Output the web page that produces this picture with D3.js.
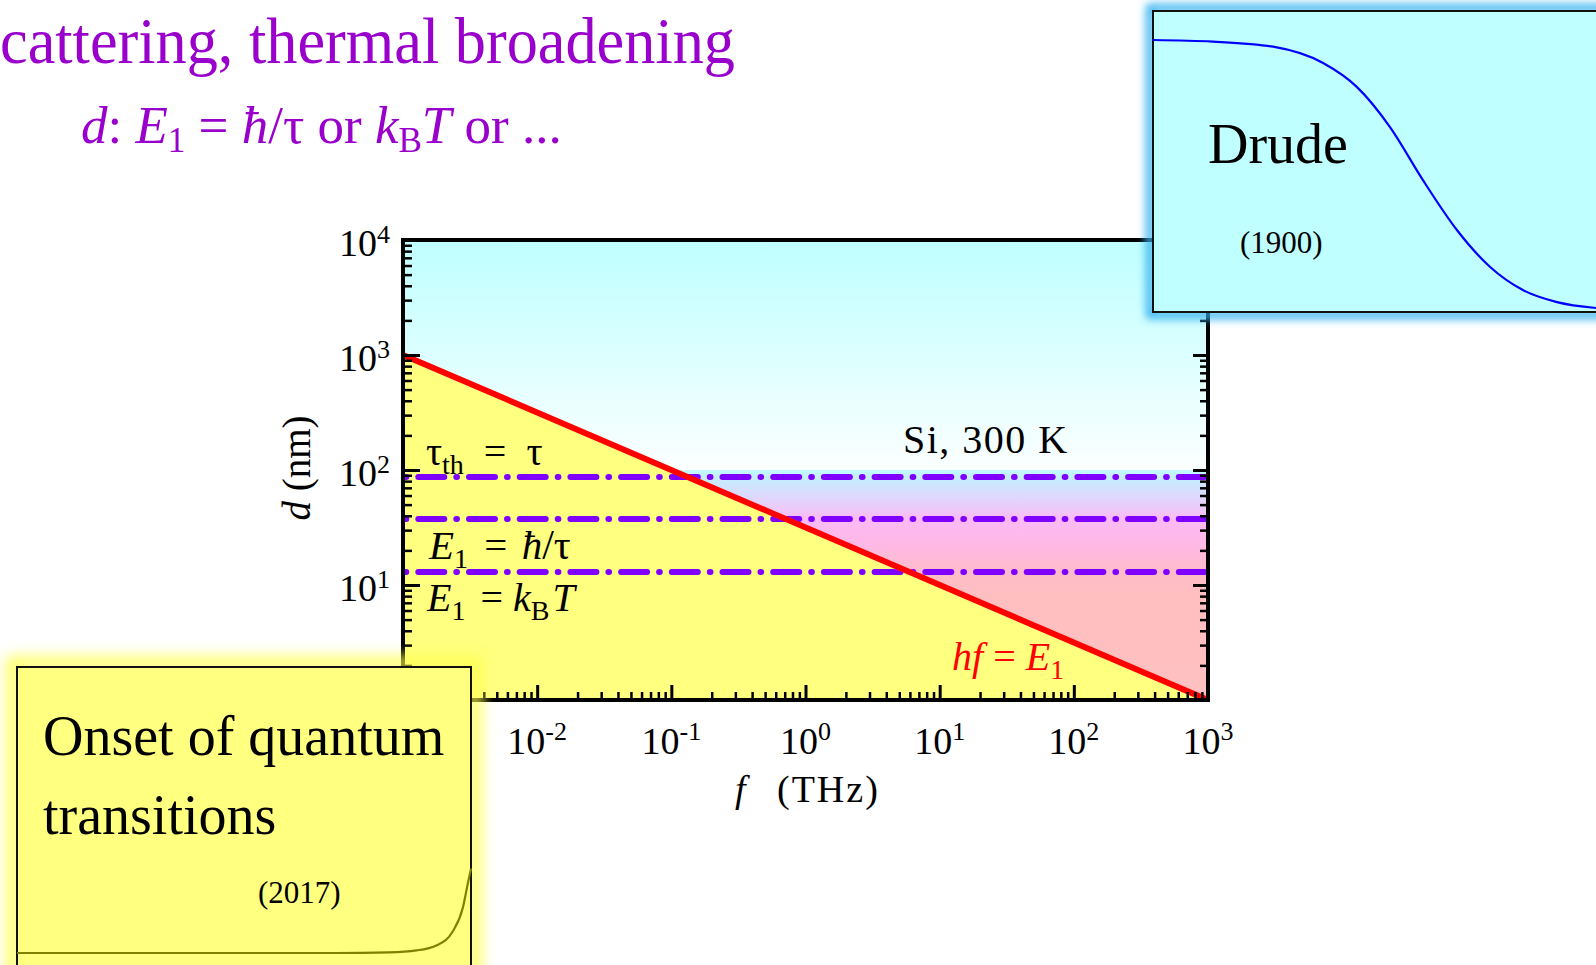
<!DOCTYPE html>
<html>
<head>
<meta charset="utf-8">
<script src="https://cdn.jsdelivr.net/npm/d3@7"></script>
<style>
  html, body { margin: 0; padding: 0; background: #ffffff; overflow: hidden; }
  svg { display: block; }
  text { font-family: "Liberation Serif", "Times New Roman", serif; }
</style>
</head>
<body>
<svg id="chart"></svg>
<script>
// ---- data ----
const xTickExps = [-3, -2, -1, 0, 1, 2, 3];      // f (THz) decades
const yTickExps = [0, 1, 2, 3, 4];               // d (nm) decades
const xLabelExps = [-2, -1, 0, 1, 2, 3];         // labelled decades (others sit under the inset)
const yLabelExps = [1, 2, 3, 4];
const freqTHz = [1e-3, 1e3];                     // hf = E1 boundary
const hfLength = [1000, 1];                      // d (nm) along the boundary
const limitLengths = [87, 37.5, 13];             // tau_th = tau, E1 = hbar/tau, E1 = kB T
// Drude inset curve (normalised inset coordinates)
const drudeU = [0, 0.135, 0.271, 0.384, 0.460, 0.535, 0.609, 0.686, 0.761, 0.835, 0.912, 1];
const drudeV = [1, 0.994, 0.975, 0.914, 0.825, 0.675, 0.478, 0.291, 0.153, 0.067, 0.022, 0];
// quantum-onset inset curve (normalised inset coordinates)
const onsetU = [0, 0.70, 0.82, 0.88, 0.925, 0.960, 0.982, 0.993, 1];
const onsetV = [0, 0, 0.008, 0.03, 0.09, 0.25, 0.52, 0.80, 0.97];

const W = 1596, H = 965;
const plot = { left: 403, right: 1208, top: 240, bottom: 700 };

const svg = d3.select("#chart").attr("width", W).attr("height", H);
const defs = svg.append("defs");

const x = d3.scaleLog().domain([1e-3, 1e3]).range([plot.left, plot.right]);
const y = d3.scaleLog().domain([1, 1e4]).range([plot.bottom, plot.top]);

// ---- gradients & filters ----
const gTop = defs.append("linearGradient").attr("id", "gTop")
  .attr("gradientUnits", "userSpaceOnUse").attr("x1", 0).attr("x2", 0)
  .attr("y1", plot.top).attr("y2", y(100));
[[0, "#bfffff"], [0.45, "#d9ffff"], [0.8, "#f0ffff"], [1, "#fbffff"]].forEach(s =>
  gTop.append("stop").attr("offset", s[0]).attr("stop-color", s[1]));

const gBand = defs.append("linearGradient").attr("id", "gBand")
  .attr("gradientUnits", "userSpaceOnUse").attr("x1", 0).attr("x2", 0)
  .attr("y1", y(100)).attr("y2", plot.bottom);
[[0, "#c0fbff"], [0.04, "#c6ecfd"], [0.13, "#e2d4fc"], [0.22, "#fcbaf6"],
 [0.33, "#ffb9e4"], [0.45, "#ffbcc8"], [0.56, "#ffbfc0"], [1, "#ffc0c0"]].forEach(s =>
  gBand.append("stop").attr("offset", s[0]).attr("stop-color", s[1]));

const blurC = defs.append("filter").attr("id", "glowCyan")
  .attr("x", "-20%").attr("y", "-20%").attr("width", "140%").attr("height", "140%");
blurC.append("feGaussianBlur").attr("stdDeviation", 4);
const blurY = defs.append("filter").attr("id", "glowYellow")
  .attr("x", "-20%").attr("y", "-20%").attr("width", "140%").attr("height", "140%");
blurY.append("feGaussianBlur").attr("stdDeviation", 7);

defs.append("clipPath").attr("id", "plotClip").append("rect")
  .attr("x", plot.left).attr("y", plot.top)
  .attr("width", plot.right - plot.left).attr("height", plot.bottom - plot.top);

// helper: text made of styled runs
function richText(parent, xPos, yPos, runs, opts = {}) {
  const t = parent.append("text").attr("x", xPos).attr("y", yPos)
    .attr("font-size", opts.size || 36).attr("fill", opts.fill || "#000")
    .attr("text-anchor", opts.anchor || "start");
  if (opts.transform) t.attr("transform", opts.transform);
  if (opts.spacing) t.attr("letter-spacing", opts.spacing);
  runs.forEach(r => {
    const s = t.append("tspan").text(r.t);
    if (r.i) s.attr("font-style", "italic");
    if (r.size) s.attr("font-size", r.size);
    if (r.dy) s.attr("dy", r.dy);
    if (r.dx) s.attr("dx", r.dx);
  });
  return t;
}

// ---- heading ----
svg.append("text").attr("x", 0).attr("y", 63)
  .attr("font-size", 65).attr("fill", "#9900cc")
  .attr("textLength", 735).attr("lengthAdjust", "spacingAndGlyphs")
  .text("cattering, thermal broadening");

richText(svg, 81, 143, [
  { t: "d", i: true }, { t: ": " }, { t: "E", i: true },
  { t: "1", size: 35, dy: 9 }, { t: " = ", dy: -9 }, { t: "ħ", i: true },
  { t: "/τ or " }, { t: "k", i: true }, { t: "B", size: 35, dy: 9 },
  { t: "T", i: true, dy: -9 }, { t: " or ..." }
], { size: 53, fill: "#9900cc" });

// ---- plot regions ----
const area = svg.append("g").attr("clip-path", "url(#plotClip)");
area.append("rect").attr("x", plot.left).attr("y", plot.top)
  .attr("width", plot.right - plot.left).attr("height", plot.bottom - plot.top)
  .attr("fill", "url(#gTop)");
area.append("rect").attr("x", plot.left).attr("y", y(100))
  .attr("width", plot.right - plot.left).attr("height", plot.bottom - y(100))
  .attr("fill", "url(#gBand)");

const boundary = freqTHz.map((f, i) => ({ f, d: hfLength[i] }));
area.append("path").datum(boundary)
  .attr("fill", "#ffff80")
  .attr("d", d3.area().x(p => x(p.f)).y0(plot.bottom).y1(p => y(p.d)));

// dash-dot limit lines
area.selectAll("line.limit").data(limitLengths).join("line")
  .attr("class", "limit")
  .attr("x1", plot.left).attr("x2", plot.right)
  .attr("y1", d => y(d)).attr("y2", d => y(d))
  .attr("stroke", "#8000ff").attr("stroke-width", 6)
  .attr("stroke-linecap", "round")
  .attr("stroke-dasharray", "26,12,0.7,12").attr("stroke-dashoffset", 35.4);

// hf = E1 boundary
area.append("path").datum(boundary)
  .attr("fill", "none").attr("stroke", "#ff0000").attr("stroke-width", 6)
  .attr("d", d3.line().x(p => x(p.f)).y(p => y(p.d)));

// ---- axes ----
const minor = exps => {
  const out = [];
  for (let k = exps[0]; k < exps[exps.length - 1]; k++)
    for (let m = 2; m <= 9; m++) out.push(m * Math.pow(10, k));
  return out;
};
const xMajor = xTickExps.map(e => Math.pow(10, e));
const yMajor = yTickExps.map(e => Math.pow(10, e));

function styleAxis(g, w) {
  g.select(".domain").remove();
  g.selectAll(".tick line").attr("stroke", "#000").attr("stroke-width", w);
  g.selectAll(".tick text").remove();
}
// bottom
svg.append("g").attr("transform", `translate(0,${plot.bottom})`)
  .call(d3.axisBottom(x).tickValues(minor(xTickExps)).tickSize(-8).tickFormat(""))
  .call(g => styleAxis(g, 2.5));
svg.append("g").attr("transform", `translate(0,${plot.bottom})`)
  .call(d3.axisBottom(x).tickValues(xMajor).tickSize(-15).tickFormat(""))
  .call(g => styleAxis(g, 3));
// left
svg.append("g").attr("transform", `translate(${plot.left},0)`)
  .call(d3.axisLeft(y).tickValues(minor(yTickExps)).tickSize(-9).tickFormat(""))
  .call(g => styleAxis(g, 2.5));
svg.append("g").attr("transform", `translate(${plot.left},0)`)
  .call(d3.axisLeft(y).tickValues(yMajor).tickSize(-17).tickFormat(""))
  .call(g => styleAxis(g, 3));
// right
svg.append("g").attr("transform", `translate(${plot.right},0)`)
  .call(d3.axisRight(y).tickValues(minor(yTickExps)).tickSize(-8).tickFormat(""))
  .call(g => styleAxis(g, 2.5));
svg.append("g").attr("transform", `translate(${plot.right},0)`)
  .call(d3.axisRight(y).tickValues(yMajor).tickSize(-15).tickFormat(""))
  .call(g => styleAxis(g, 3));
// frame
svg.append("rect").attr("x", plot.left).attr("y", plot.top)
  .attr("width", plot.right - plot.left).attr("height", plot.bottom - plot.top)
  .attr("fill", "none").attr("stroke", "#000").attr("stroke-width", 4);

// tick labels
xLabelExps.forEach(e => {
  richText(svg, x(Math.pow(10, e)), 754, [
    { t: "10" }, { t: String(e), size: 26, dy: -14 }
  ], { size: 38, anchor: "middle" });
});
yLabelExps.forEach(e => {
  richText(svg, 390, y(Math.pow(10, e)) + 16, [
    { t: "10" }, { t: String(e), size: 26, dy: -13 }
  ], { size: 38, anchor: "end" });
});

// axis titles
richText(svg, 0, 0, [{ t: "d", i: true }, { t: " (nm)" }],
  { size: 39, anchor: "middle", transform: "translate(310,468) rotate(-90)" });
richText(svg, 735, 802, [{ t: "f", i: true }], { size: 38 });
svg.append("text").attr("x", 777).attr("y", 802).attr("font-size", 38)
  .attr("letter-spacing", 2).attr("fill", "#000").text("(THz)");

// in-plot labels
richText(svg, 426, 465, [
  { t: "τ" }, { t: "th", size: 28, dy: 9 }, { t: "\u2002=\u2002τ", dy: -9 }
], { size: 40 });
richText(svg, 429, 559, [
  { t: "E", i: true }, { t: "1", size: 28, dy: 9 }, { t: " = ", dy: -9, dx: 6 },
  { t: "ħ", i: true, dx: 4 }, { t: "/τ", size: 42 }
], { size: 41 });
richText(svg, 427, 611, [
  { t: "E", i: true }, { t: "1", size: 28, dy: 9 }, { t: " = ", dy: -9, dx: 5 },
  { t: "k", i: true }, { t: "B", size: 28, dy: 9 }, { t: "T", i: true, dy: -9, dx: 3 }
], { size: 40 });
svg.append("text").attr("x", 903).attr("y", 453).attr("font-size", 40)
  .attr("letter-spacing", 1.5).attr("fill", "#000").text("Si, 300 K");
richText(svg, 952, 670, [
  { t: "hf", i: true }, { t: " = " }, { t: "E", i: true },
  { t: "1", size: 28, dy: 9 }
], { size: 40, fill: "#ff0000" });

// ---- Drude inset ----
const dBox = { x: 1153, y: 11, w: 460, h: 301 };
svg.append("rect").attr("x", dBox.x - 3).attr("y", dBox.y - 3)
  .attr("width", dBox.w + 6).attr("height", dBox.h + 6)
  .attr("fill", "none").attr("stroke", "#38b4f0").attr("stroke-width", 8)
  .attr("filter", "url(#glowCyan)");
svg.append("rect").attr("x", dBox.x).attr("y", dBox.y)
  .attr("width", dBox.w).attr("height", dBox.h)
  .attr("fill", "#bfffff").attr("stroke", "#111").attr("stroke-width", 2);
const du = d3.scaleLinear().domain([0, 1]).range([dBox.x, 1596]);
const dv = d3.scaleLinear().domain([0, 1]).range([308, 40]);
svg.append("path").datum(drudeU.map((u, i) => [u, drudeV[i]]))
  .attr("fill", "none").attr("stroke", "#0000ff").attr("stroke-width", 2.2)
  .attr("d", d3.line().x(p => du(p[0])).y(p => dv(p[1])).curve(d3.curveMonotoneX));
svg.append("text").attr("x", 1208).attr("y", 163).attr("font-size", 56)
  .attr("fill", "#000").text("Drude");
svg.append("text").attr("x", 1240).attr("y", 253).attr("font-size", 31)
  .attr("fill", "#000").text("(1900)");

// ---- quantum-onset inset ----
const oBox = { x: 17, y: 667, w: 454, h: 330 };
svg.append("rect").attr("x", oBox.x - 4).attr("y", oBox.y - 4)
  .attr("width", oBox.w + 8).attr("height", oBox.h + 8)
  .attr("fill", "none").attr("stroke", "#ffff50").attr("stroke-width", 14)
  .attr("opacity", 0.85).attr("filter", "url(#glowYellow)");
svg.append("rect").attr("x", oBox.x).attr("y", oBox.y)
  .attr("width", oBox.w).attr("height", oBox.h)
  .attr("fill", "#ffff80").attr("stroke", "#111").attr("stroke-width", 2);
const ou = d3.scaleLinear().domain([0, 1]).range([oBox.x, oBox.x + oBox.w]);
const ov = d3.scaleLinear().domain([0, 1]).range([953, 866]);
svg.append("path").datum(onsetU.map((u, i) => [u, onsetV[i]]))
  .attr("fill", "none").attr("stroke", "#808000").attr("stroke-width", 2.2)
  .attr("d", d3.line().x(p => ou(p[0])).y(p => ov(p[1])).curve(d3.curveMonotoneX));
svg.append("text").attr("x", 43).attr("y", 755).attr("font-size", 56)
  .attr("fill", "#000").text("Onset of quantum");
svg.append("text").attr("x", 43).attr("y", 834).attr("font-size", 56)
  .attr("fill", "#000").text("transitions");
svg.append("text").attr("x", 258).attr("y", 903).attr("font-size", 31)
  .attr("fill", "#000").text("(2017)");
</script>
</body>
</html>
